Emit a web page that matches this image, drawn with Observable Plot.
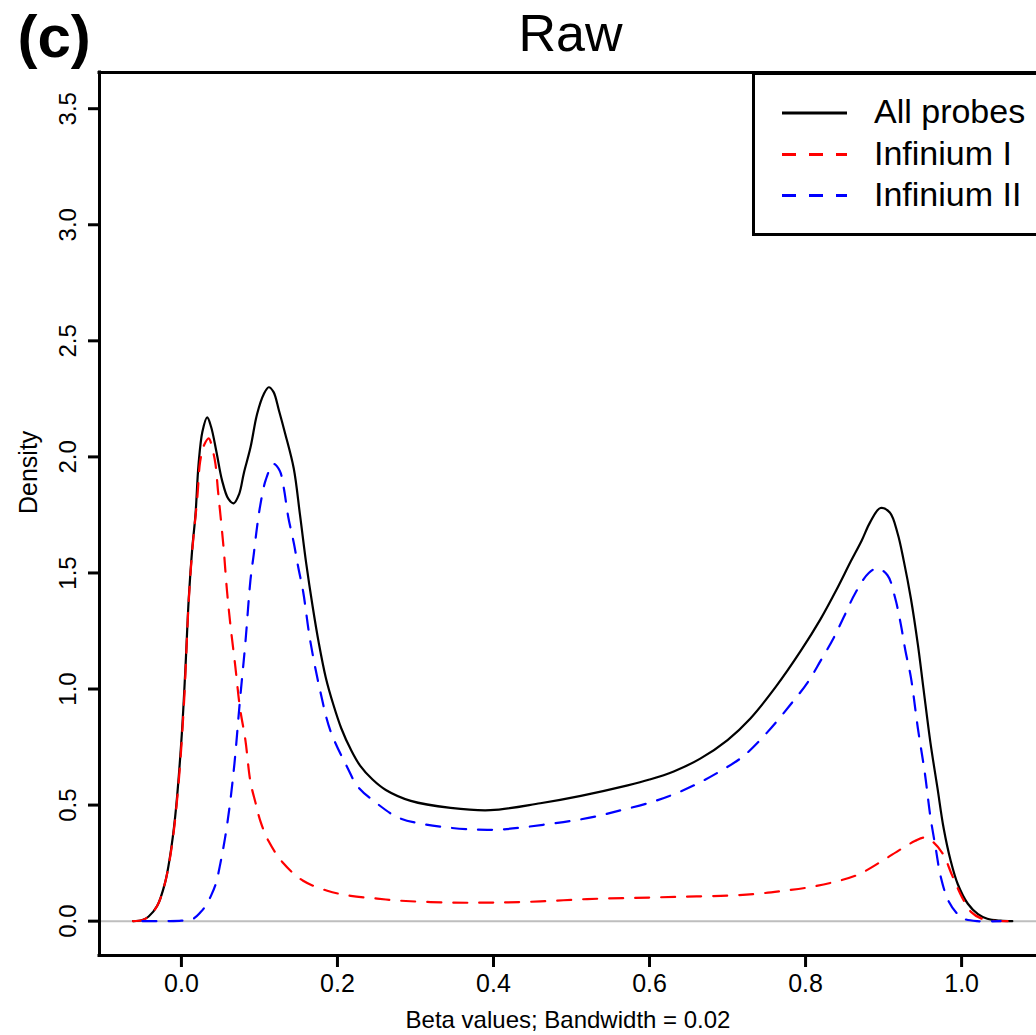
<!DOCTYPE html>
<html>
<head>
<meta charset="utf-8">
<script src="https://cdn.jsdelivr.net/npm/d3@7"></script>
<script src="https://cdn.jsdelivr.net/npm/@observablehq/plot@0.6"></script>
<style>
  html, body { margin: 0; padding: 0; background: #fff; overflow: hidden; }
  #chart { width: 1036px; height: 1035px; }
</style>
</head>
<body>
<div id="chart"></div>
<script>
// ---- data ----
const panelLabel = "(c)";
const titleText = "Raw";
const xLabel = "Beta values; Bandwidth = 0.02";
const yLabel = "Density";
const xTicks = [0, 0.2, 0.4, 0.6, 0.8, 1.0];
const yTicks = [0, 0.5, 1, 1.5, 2, 2.5, 3, 3.5];
const seriesNames = ["All probes", "Infinium I", "Infinium II"];
const seriesColors = ["#000000", "#ff0000", "#0000ff"];

const allX = [-0.062, -0.05, -0.042, -0.031, -0.021, -0.015, -0.008, 0.0, 0.005, 0.0094, 0.014, 0.018, 0.022, 0.027, 0.033, 0.038, 0.045, 0.052, 0.060, 0.067, 0.074, 0.080, 0.0885, 0.097, 0.1055, 0.112, 0.118, 0.125, 0.133, 0.144, 0.152, 0.160, 0.168, 0.176, 0.185, 0.195, 0.205, 0.217, 0.229, 0.245, 0.262, 0.294, 0.345, 0.396, 0.46, 0.512, 0.572, 0.60, 0.631, 0.665, 0.70, 0.729, 0.762, 0.794, 0.819, 0.840, 0.858, 0.872, 0.883, 0.896, 0.908, 0.918, 0.926, 0.935, 0.944, 0.951, 0.960, 0.969, 0.977, 0.986, 0.995, 1.008, 1.021, 1.033, 1.05, 1.065];
const allY = [0.0, 0.005, 0.02, 0.066, 0.165, 0.27, 0.45, 0.78, 1.08, 1.39, 1.61, 1.75, 1.97, 2.11, 2.17, 2.13, 2.02, 1.90, 1.82, 1.80, 1.84, 1.93, 2.04, 2.185, 2.27, 2.30, 2.28, 2.20, 2.10, 1.95, 1.75, 1.54, 1.36, 1.20, 1.05, 0.93, 0.83, 0.74, 0.67, 0.61, 0.565, 0.518, 0.488, 0.478, 0.508, 0.54, 0.585, 0.61, 0.645, 0.70, 0.78, 0.872, 1.01, 1.165, 1.30, 1.43, 1.55, 1.64, 1.72, 1.78, 1.76, 1.67, 1.55, 1.39, 1.19, 1.005, 0.77, 0.575, 0.40, 0.26, 0.16, 0.075, 0.03, 0.01, 0.002, 0.0];

const inf1X = [-0.062, -0.05, -0.042, -0.031, -0.021, -0.012, -0.004, 0.003, 0.0094, 0.014, 0.0205, 0.024, 0.029, 0.035, 0.040, 0.0436, 0.047, 0.05, 0.054, 0.0585, 0.063, 0.069, 0.075, 0.082, 0.0885, 0.095, 0.101, 0.1115, 0.131, 0.156, 0.187, 0.217, 0.251, 0.281, 0.345, 0.40, 0.46, 0.52, 0.58, 0.64, 0.70, 0.738, 0.77, 0.803, 0.836, 0.867, 0.896, 0.922, 0.94, 0.952, 0.962, 0.976, 0.988, 1.001, 1.012, 1.025, 1.04, 1.06];
const inf1Y = [0.0, 0.005, 0.02, 0.066, 0.165, 0.33, 0.58, 0.92, 1.38, 1.60, 1.83, 1.98, 2.05, 2.08, 2.03, 1.97, 1.85, 1.75, 1.61, 1.42, 1.27, 1.10, 0.92, 0.78, 0.60, 0.51, 0.433, 0.346, 0.248, 0.174, 0.131, 0.109, 0.097, 0.088, 0.08, 0.08, 0.085, 0.095, 0.10, 0.105, 0.11, 0.118, 0.13, 0.145, 0.168, 0.20, 0.255, 0.31, 0.345, 0.36, 0.345, 0.29, 0.196, 0.10, 0.04, 0.012, 0.002, 0.0];

const inf2X = [-0.05, -0.02, 0.0, 0.015, 0.025, 0.031, 0.038, 0.044, 0.05, 0.056, 0.062, 0.068, 0.075, 0.082, 0.0885, 0.0927, 0.097, 0.101, 0.108, 0.118, 0.126, 0.131, 0.137, 0.144, 0.150, 0.156, 0.165, 0.178, 0.191, 0.213, 0.226, 0.251, 0.278, 0.31, 0.345, 0.38, 0.41, 0.44, 0.47, 0.50, 0.53, 0.56, 0.60, 0.63, 0.66, 0.69, 0.72, 0.75, 0.78, 0.803, 0.819, 0.836, 0.849, 0.864, 0.881, 0.892, 0.905, 0.915, 0.922, 0.928, 0.935, 0.944, 0.953, 0.960, 0.967, 0.973, 0.983, 0.995, 1.003, 1.02, 1.05];
const inf2Y = [0.0, 0.0, 0.002, 0.01, 0.04, 0.066, 0.11, 0.16, 0.25, 0.36, 0.50, 0.68, 0.95, 1.2, 1.47, 1.58, 1.70, 1.79, 1.90, 1.97, 1.94, 1.87, 1.74, 1.63, 1.52, 1.42, 1.21, 0.99, 0.82, 0.66, 0.58, 0.506, 0.446, 0.418, 0.402, 0.394, 0.395, 0.405, 0.418, 0.432, 0.45, 0.475, 0.51, 0.545, 0.59, 0.645, 0.71, 0.81, 0.93, 1.03, 1.12, 1.22, 1.31, 1.415, 1.50, 1.52, 1.49, 1.39, 1.28, 1.165, 1.05, 0.83, 0.635, 0.45, 0.31, 0.195, 0.088, 0.03, 0.01, 0.0, 0.0];

// ---- build table for the library ----
const table = [];
[[allX, allY], [inf1X, inf1Y], [inf2X, inf2Y]].forEach(([xs, ys], i) => {
  xs.forEach((x, j) => table.push({series: seriesNames[i], x, y: ys[j]}));
});

const xDomain = [-0.105, 1.096];
const yDomain = [-0.148, 3.656];
const font = "'Liberation Sans', Arial, Helvetica, sans-serif";

const chart = Plot.plot({
  width: 1036,
  height: 1035,
  marginLeft: 99,
  marginRight: 0,
  marginTop: 72,
  marginBottom: 80,
  style: {fontFamily: font, background: "#fff", color: "#000", overflow: "visible"},
  x: {domain: xDomain},
  y: {domain: yDomain},
  marks: [
    Plot.ruleY([0], {stroke: "#bebebe", strokeWidth: 2}),
    Plot.line(table.filter(d => d.series === seriesNames[0]), {
      x: d => d.x, y: d => d.y, stroke: seriesColors[0], strokeWidth: 2.2, curve: "catmull-rom"
    }),
    Plot.line(table.filter(d => d.series === seriesNames[1]), {
      x: d => d.x, y: d => d.y, stroke: seriesColors[1], strokeWidth: 2.2, strokeDasharray: "14,12", curve: "catmull-rom"
    }),
    Plot.line(table.filter(d => d.series === seriesNames[2]), {
      x: d => d.x, y: d => d.y, stroke: seriesColors[2], strokeWidth: 2.2, strokeDasharray: "14,12", curve: "catmull-rom"
    }),
    // frame: left, top, bottom
    Plot.ruleX([xDomain[0]], {strokeWidth: 3, strokeLinecap: "square"}),
    Plot.ruleY(yDomain, {strokeWidth: 3, strokeLinecap: "square"}),
    Plot.axisX(xTicks, {
      tickSize: 12, tickPadding: 7, strokeWidth: 3, fontSize: 25,
      tickFormat: d => d.toFixed(1), label: null
    }),
    Plot.axisY(yTicks, {
      tickSize: 11, tickPadding: 13, tickRotate: -90, strokeWidth: 3, fontSize: 24,
      tickFormat: d => d.toFixed(1), label: null
    }),
    Plot.text([xLabel], {text: d => d, frameAnchor: "bottom", dy: 72, lineAnchor: "bottom", fontSize: 24}),
    Plot.text([yLabel], {text: d => d, frameAnchor: "left", dx: -63, rotate: -90, lineAnchor: "bottom", fontSize: 25}),
    Plot.text([titleText], {text: d => d, frameAnchor: "top", dx: 2.5, dy: -22, lineAnchor: "bottom", fontSize: 52}),
    Plot.text([panelLabel], {text: d => d, frameAnchor: "top-left", dx: -82, dy: -16, lineAnchor: "bottom", textAnchor: "start", fontSize: 60, fontWeight: "bold"})
  ]
});

document.getElementById("chart").appendChild(chart);

// ---- legend (top right, box continues past the right edge) ----
const svg = d3.select(chart);
const lg = svg.append("g").attr("font-family", font).attr("text-anchor", "start");
lg.append("rect")
  .attr("x", 753.5).attr("y", 73.5).attr("width", 400).attr("height", 161)
  .attr("fill", "#fff").attr("stroke", "#000").attr("stroke-width", 3);
const rowsY = [113, 154.5, 195.5];
const baseY = [123, 165, 206];
seriesNames.forEach((name, i) => {
  lg.append("line")
    .attr("x1", 782).attr("x2", 847).attr("y1", rowsY[i]).attr("y2", rowsY[i])
    .attr("stroke", seriesColors[i]).attr("stroke-width", 3)
    .attr("stroke-dasharray", i === 0 ? null : "14,13");
  lg.append("text")
    .attr("x", 874).attr("y", baseY[i])
    .attr("text-anchor", "start")
    .attr("font-size", 34).attr("fill", "#000")
    .text(name);
});
</script>
</body>
</html>
